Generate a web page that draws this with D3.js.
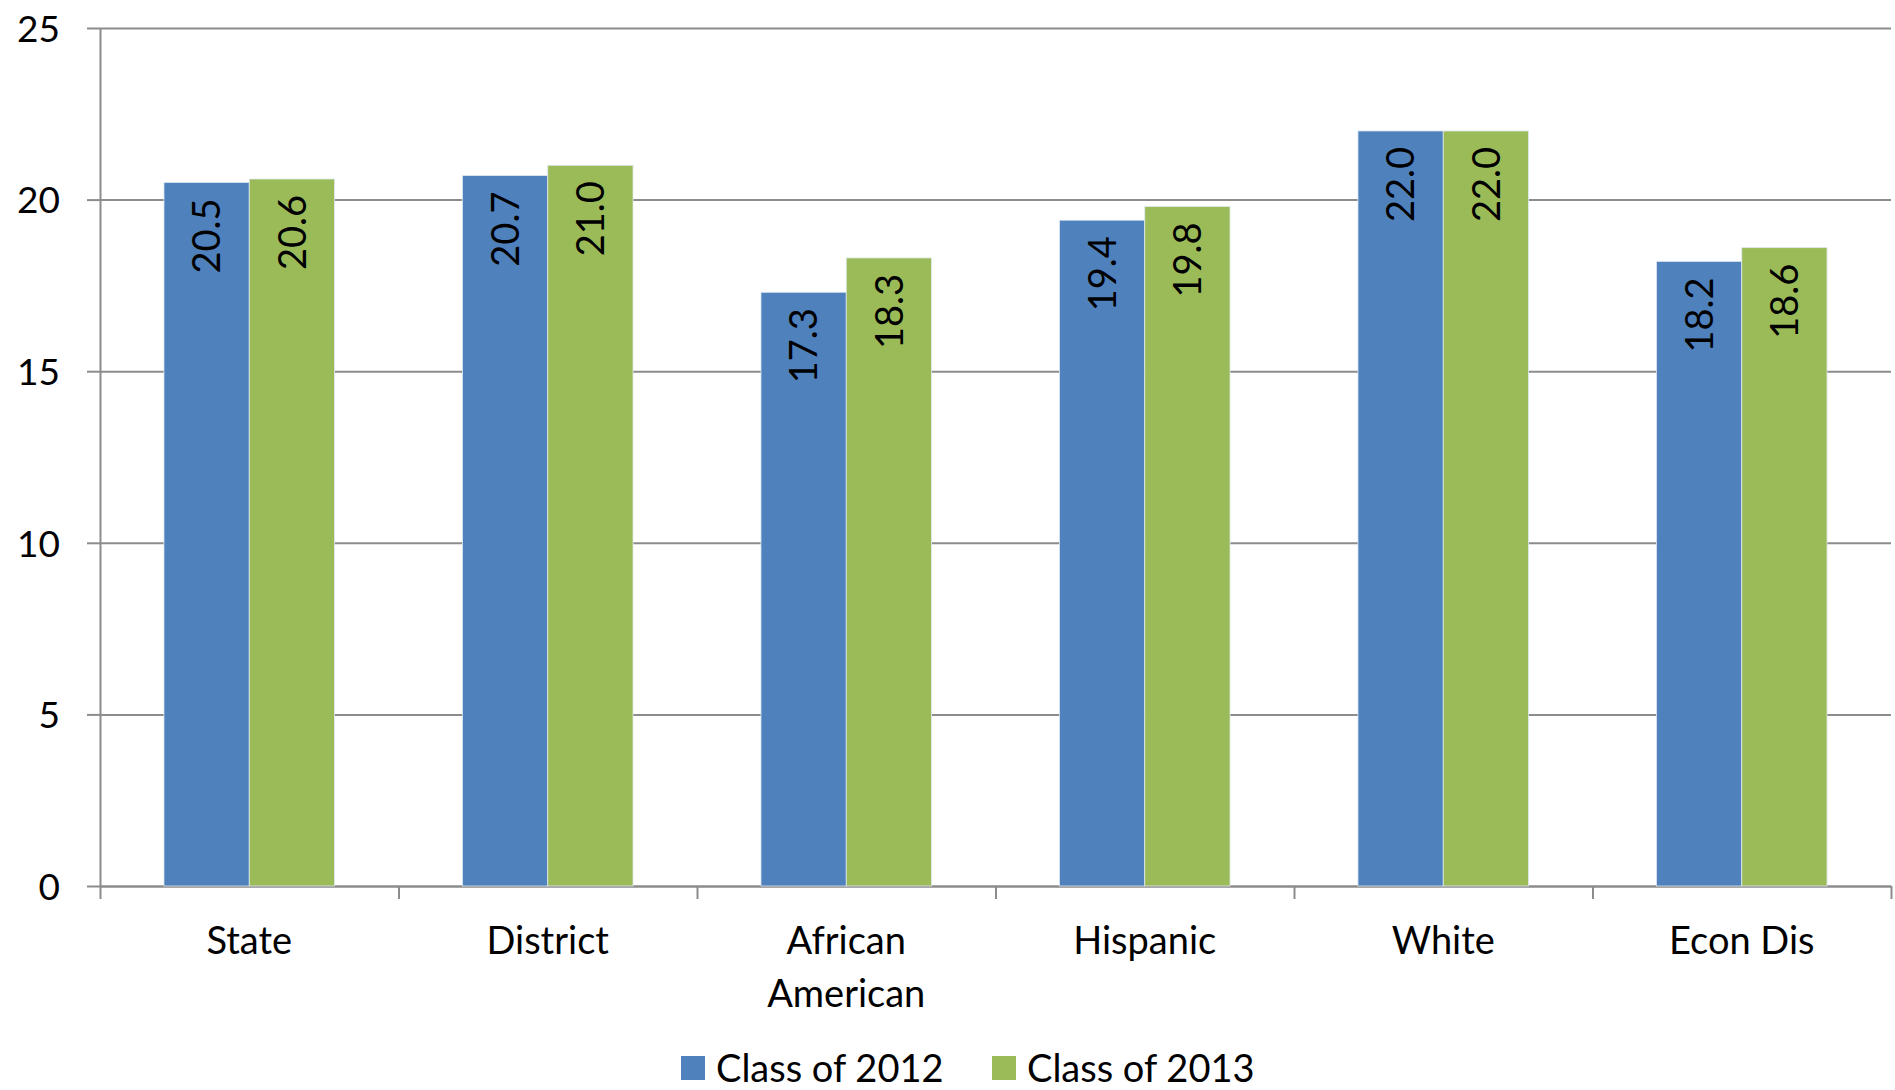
<!DOCTYPE html>
<html lang="en">
<head>
<meta charset="utf-8">
<title>Class of 2012 vs 2013</title>
<script src="https://d3js.org/d3.v7.min.js"></script>
<style>
  body { margin: 0; background: #fff; }
  text { font-family: Lato, "Open Sans", sans-serif; fill: #000; }
  .grid line { stroke: #8c8c8c; stroke-width: 2; }
  .grid path { display: none; }
  .axis path, .axis line { stroke: #8c8c8c; stroke-width: 2; }
</style>
</head>
<body>
<script>
// data
var categories = ["State", "District", "African American", "Hispanic", "White", "Econ Dis"];
var series = ["Class of 2012", "Class of 2013"];
var class2012 = [20.5, 20.7, 17.3, 19.4, 22.0, 18.2];
var class2013 = [20.6, 21.0, 18.3, 19.8, 22.0, 18.6];
var yTicks = [0, 5, 10, 15, 20, 25];
var colors = ["#4f81bd", "#9bbb59"];

var chartWidth = 1895, chartHeight = 1090;
var margin = {top: 28, right: 4, bottom: 204, left: 100};
var width = chartWidth - margin.left - margin.right;
var height = chartHeight - margin.top - margin.bottom;

var svg = d3.select("body").append("svg")
    .attr("width", chartWidth)
    .attr("height", chartHeight);

var g = svg.append("g").attr("transform", "translate(" + margin.left + "," + margin.top + ")");

var pad = 0.4286;
var x = d3.scaleBand().domain(categories).range([0, width])
    .paddingInner(pad).paddingOuter(pad / 2);
var xs = d3.scaleBand().domain(series).range([0, x.bandwidth()]);
var y = d3.scaleLinear().domain([0, 25]).range([height, 0]);

// gridlines
g.append("g").attr("class", "grid")
  .call(d3.axisLeft(y).tickValues(yTicks).tickSize(-width).tickFormat(""));

// y axis
var yAxis = g.append("g").attr("class", "axis")
  .call(d3.axisLeft(y).tickValues(yTicks).tickSize(13).tickSizeOuter(0).tickPadding(27));
yAxis.selectAll("text").style("font-size", "37px").attr("dy", "0.36em");

// x axis: ticks at category boundaries
var bounds = d3.scaleLinear().domain([0, categories.length]).range([0, width]);
g.append("g").attr("class", "axis")
  .attr("transform", "translate(0," + height + ")")
  .call(d3.axisBottom(bounds).tickValues(d3.range(categories.length + 1)).tickSize(13).tickSizeOuter(0).tickFormat(""));

var xLabels = g.append("g")
  .attr("transform", "translate(0," + height + ")")
  .call(d3.axisBottom(x).tickSize(0).tickPadding(0));
xLabels.select(".domain").remove();
xLabels.selectAll(".tick text").each(function(d) {
  var t = d3.select(this).text(null).attr("y", 0).attr("dy", null).style("font-size", "38px");
  if (d === "African American") {
    var words = d.split(" ");
    t.append("tspan").attr("x", 0).attr("y", 68).text(words[0]);
    t.append("tspan").attr("x", 0).attr("y", 121).text(words[1]);
  } else {
    t.append("tspan").attr("x", 0).attr("y", 68).text(d);
  }
});

// bars
var rows = categories.map(function(c, i) {
  return {cat: c, vals: [{s: series[0], v: class2012[i]}, {s: series[1], v: class2013[i]}]};
});

var groups = g.selectAll(".grp").data(rows).enter().append("g")
  .attr("transform", function(d) { return "translate(" + x(d.cat) + ",0)"; });

groups.selectAll("rect").data(function(d) { return d.vals; }).enter().append("rect")
  .attr("x", function(d) { return xs(d.s); })
  .attr("y", function(d) { return y(d.v); })
  .attr("width", xs.bandwidth())
  .attr("height", function(d) { return height - y(d.v); })
  .attr("fill", function(d) { return colors[series.indexOf(d.s)]; })
  .attr("stroke", "#dfe8f0")
  .attr("stroke-width", 0.8);

groups.selectAll(".lbl").data(function(d) { return d.vals; }).enter().append("text")
  .attr("class", "lbl")
  .attr("transform", function(d) {
    return "translate(" + (xs(d.s) + xs.bandwidth() / 2) + "," + (y(d.v) + 16) + ") rotate(-90)";
  })
  .attr("text-anchor", "end")
  .attr("dy", "0.36em")
  .style("font-size", "38px")
  .text(function(d) { return d3.format(".1f")(d.v); });

// legend
var legend = svg.append("g").attr("transform", "translate(681,1056)");
var lx = [0, 311];
series.forEach(function(s, i) {
  var it = legend.append("g").attr("transform", "translate(" + lx[i] + ",0)");
  it.append("rect").attr("width", 24).attr("height", 24).attr("fill", colors[i]);
  it.append("text").attr("x", 35).attr("y", 12).attr("dy", "0.36em")
    .style("font-size", "38px").text(s);
});
</script>
</body>
</html>
